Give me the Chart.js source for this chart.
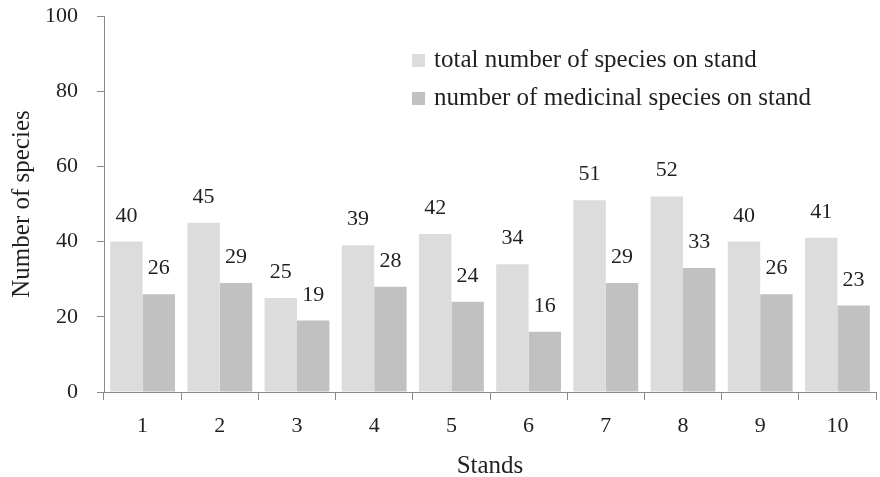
<!DOCTYPE html>
<html>
<head>
<meta charset="utf-8">
<script src="https://cdn.jsdelivr.net/npm/chart.js@4.4.1/dist/chart.umd.min.js"></script>
<style>
  html, body { margin: 0; padding: 0; background: #ffffff; }
  #wrap { width: 880px; height: 477px; }
</style>
</head>
<body>
<div id="wrap"><canvas id="c" width="880" height="477"></canvas></div>
<script>
// Species counts per forest stand
const stands = ['1', '2', '3', '4', '5', '6', '7', '8', '9', '10'];
const totalSpecies = [40, 45, 25, 39, 42, 34, 51, 52, 40, 41];
const medicinalSpecies = [26, 29, 19, 28, 24, 16, 29, 33, 26, 23];
const yTicks = [0, 20, 40, 60, 80, 100];

const FONT = '"Liberation Serif", "Times New Roman", serif';
const TEXT = '#231f20';
const AXIS = '#8a8a8a';

// Value printed above every bar
const valueLabels = {
  id: 'valueLabels',
  afterDatasetsDraw(chart) {
    const ctx = chart.ctx;
    ctx.save();
    ctx.font = '22px ' + FONT;
    ctx.fillStyle = TEXT;
    ctx.textAlign = 'center';
    ctx.textBaseline = 'alphabetic';
    chart.data.datasets.forEach((ds, i) => {
      chart.getDatasetMeta(i).data.forEach((bar, j) => {
        ctx.fillText(String(ds.data[j]), bar.x, bar.y - 20);
      });
    });
    ctx.restore();
  }
};

// Legend drawn inside the plot area, upper right
const innerLegend = {
  id: 'innerLegend',
  afterDraw(chart) {
    const ctx = chart.ctx;
    const area = chart.chartArea;
    const x0 = area.left + 308;
    const rows = [area.top + 44, area.top + 82];
    ctx.save();
    ctx.font = '25px ' + FONT;
    ctx.textBaseline = 'middle';
    ctx.textAlign = 'left';
    chart.data.datasets.forEach((ds, i) => {
      const y = rows[i];
      ctx.fillStyle = ds.backgroundColor;
      ctx.fillRect(x0, y - 6, 13, 13);
      ctx.fillStyle = TEXT;
      ctx.fillText(ds.label, x0 + 22, y);
    });
    ctx.restore();
  }
};

new Chart(document.getElementById('c'), {
  type: 'bar',
  data: {
    labels: stands,
    datasets: [
      {
        label: 'total number of species on stand',
        data: totalSpecies,
        backgroundColor: '#dcdcdc',
        categoryPercentage: 0.84,
        barPercentage: 1.0
      },
      {
        label: 'number of medicinal species on stand',
        data: medicinalSpecies,
        backgroundColor: '#c1c1c1',
        categoryPercentage: 0.84,
        barPercentage: 1.0
      }
    ]
  },
  options: {
    responsive: false,
    animation: false,
    devicePixelRatio: 1,
    layout: { padding: { top: 16, right: 4, left: 0, bottom: 0 } },
    plugins: {
      legend: { display: false },
      tooltip: { enabled: false }
    },
    scales: {
      x: {
        afterFit(scale) { scale.height = 85; },
        grid: {
          display: true,
          offset: true,
          drawOnChartArea: false,
          drawTicks: true,
          tickLength: 8,
          color: AXIS,
          lineWidth: 1
        },
        border: { display: true, color: AXIS, width: 1 },
        ticks: {
          color: TEXT,
          font: { family: FONT, size: 22 },
          padding: 13
        },
        title: {
          display: true,
          text: 'Stands',
          color: TEXT,
          font: { family: FONT, size: 25 },
          padding: { top: 0, bottom: -4 }
        }
      },
      y: {
        min: 0,
        max: 100,
        afterFit(scale) {
          scale.width = 104;
          scale.paddingTop = 0;
          scale.paddingBottom = 0;
        },
        afterBuildTicks(scale) { scale.ticks = yTicks.map(v => ({ value: v })); },
        grid: {
          display: true,
          drawOnChartArea: false,
          drawTicks: true,
          tickLength: 7,
          color: AXIS,
          lineWidth: 1
        },
        border: { display: true, color: AXIS, width: 1 },
        ticks: {
          color: TEXT,
          font: { family: FONT, size: 22 },
          padding: 19
        },
        title: {
          display: true,
          text: 'Number of species',
          color: TEXT,
          font: { family: FONT, size: 25 },
          padding: { top: 7, bottom: 0 }
        }
      }
    }
  },
  plugins: [valueLabels, innerLegend]
});
</script>
</body>
</html>
